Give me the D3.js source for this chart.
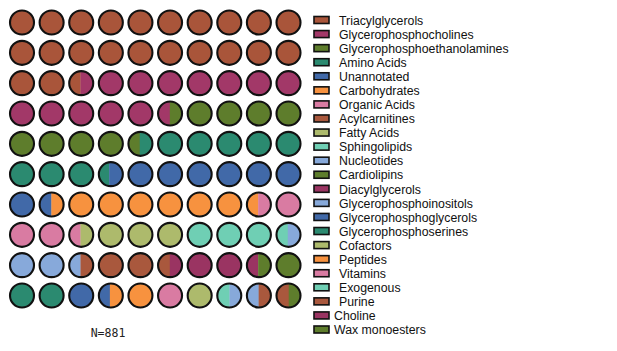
<!DOCTYPE html>
<html>
<head>
<meta charset="utf-8">
<script src="https://cdn.jsdelivr.net/npm/d3@7"></script>
<style>
  body { margin: 0; background: #fff; }
  svg { display: block; }
</style>
</head>
<body>
<div id="chart"></div>
<script>

// legend entries, in legend order
var categories = ["Triacylglycerols", "Glycerophosphocholines", "Glycerophosphoethanolamines",
  "Amino Acids", "Unannotated", "Carbohydrates", "Organic Acids", "Acylcarnitines",
  "Fatty Acids", "Sphingolipids", "Nucleotides", "Cardiolipins", "Diacylglycerols",
  "Glycerophosphoinositols", "Glycerophosphoglycerols", "Glycerophosphoserines",
  "Cofactors", "Peptides", "Vitamins", "Exogenous", "Purine", "Choline", "Wax monoesters"];

var colors = ["#a9553a", "#a23868", "#5e7d2c", "#2b8a70", "#4169a8", "#f7923f", "#d97ba2",
  "#a9583d", "#adba6c", "#6fcfb4", "#87a9da", "#5e7d2c", "#9a3462", "#87a9da", "#4169a8",
  "#2b8a70", "#adba6c", "#f7923f", "#d97ba2", "#6fcfb4", "#a9583d", "#9a3462", "#5e7d2c"];

// order the classes fill the waffle, and their share (% of 881 features)
var fillOrder = ["Triacylglycerols", "Glycerophosphocholines", "Glycerophosphoethanolamines",
  "Amino Acids", "Unannotated", "Carbohydrates", "Organic Acids", "Fatty Acids",
  "Sphingolipids", "Nucleotides", "Acylcarnitines", "Diacylglycerols", "Cardiolipins",
  "Glycerophosphoserines", "Glycerophosphoglycerols", "Peptides", "Vitamins", "Cofactors",
  "Exogenous", "Glycerophosphoinositols", "Purine", "Wax monoesters"];

var shares = [22.47, 13.02, 8.98, 8.96, 8.06, 6.98, 4.00, 3.53, 3.47, 3.00, 3.02, 2.98,
  1.53, 2.00, 1.46, 1.54, 1.00, 1.00, 0.51, 0.98, 1.02, 0.49];

var totalN = 881;
var nCols = 10, nRows = 10;

var width = 617, height = 351;
var r = 12;

var svg = d3.select("#chart").append("svg")
    .attr("width", width)
    .attr("height", height);

var color = d3.scaleOrdinal().domain(categories).range(colors);

var x = d3.scalePoint().domain(d3.range(nCols)).range([22, 288.5]);
var y = d3.scalePoint().domain(d3.range(nRows)).range([22.5, 295.5]);

// cumulative start/end of every segment on the 0..100 scale
var segs = [];
var acc = 0;
fillOrder.forEach(function(c, i) {
  segs.push({cat: c, start: acc, end: acc + shares[i]});
  acc += shares[i];
});

var cells = d3.range(nCols * nRows).map(function(i) {
  var parts = segs.filter(function(s) { return s.end > i && s.start < i + 1; })
    .map(function(s) {
      return {cat: s.cat, a: Math.max(s.start, i) - i, b: Math.min(s.end, i + 1) - i};
    });
  return {i: i, col: i % nCols, row: Math.floor(i / nCols), parts: parts};
});

var defs = svg.append("defs");
defs.selectAll("clipPath")
    .data(cells)
    .enter().append("clipPath")
    .attr("id", function(d) { return "cell" + d.i; })
    .append("circle")
    .attr("cx", function(d) { return x(d.col); })
    .attr("cy", function(d) { return y(d.row); })
    .attr("r", r);

var cell = svg.selectAll("g.cell")
    .data(cells)
    .enter().append("g")
    .attr("class", "cell");

cell.append("g")
    .attr("clip-path", function(d) { return "url(#cell" + d.i + ")"; })
    .selectAll("rect")
    .data(function(d) { return d.parts.map(function(p) { return {p: p, d: d}; }); })
    .enter().append("rect")
    .attr("x", function(e) { return x(e.d.col) - r + e.p.a * 2 * r; })
    .attr("width", function(e) { return (e.p.b - e.p.a) * 2 * r + 0.3; })
    .attr("y", function(e) { return y(e.d.row) - r; })
    .attr("height", 2 * r)
    .attr("fill", function(e) { return color(e.p.cat); });

cell.append("circle")
    .attr("cx", function(d) { return x(d.col); })
    .attr("cy", function(d) { return y(d.row); })
    .attr("r", r)
    .attr("fill", "none")
    .attr("stroke", "#111")
    .attr("stroke-width", 2.1);

svg.append("text")
    .attr("x", 108)
    .attr("y", 337)
    .attr("text-anchor", "middle")
    .style("font-family", "'DejaVu Sans Mono', monospace")
    .style("font-size", "11.5px")
    .style("fill", "#222")
    .text("N=" + totalN);

// legend
var ly = d3.scalePoint().domain(categories).range([20, 329.5]);

var legend = svg.selectAll("g.legend")
    .data(categories)
    .enter().append("g")
    .attr("class", "legend")
    .attr("transform", function(d) { return "translate(0," + ly(d) + ")"; });

legend.append("rect")
    .attr("x", 314)
    .attr("y", -3.5)
    .attr("width", 15)
    .attr("height", 7)
    .attr("fill", function(d) { return color(d); })
    .attr("stroke", "#111")
    .attr("stroke-width", 1.6);

legend.append("text")
    .attr("x", function(d, i) { return i >= 21 ? 334 : 339; })
    .attr("dy", "0.38em")
    .style("font-family", "'Liberation Sans', Arial, sans-serif")
    .style("font-size", "12.3px")
    .style("fill", "#111")
    .text(function(d) { return d; });

</script>
</body>
</html>
